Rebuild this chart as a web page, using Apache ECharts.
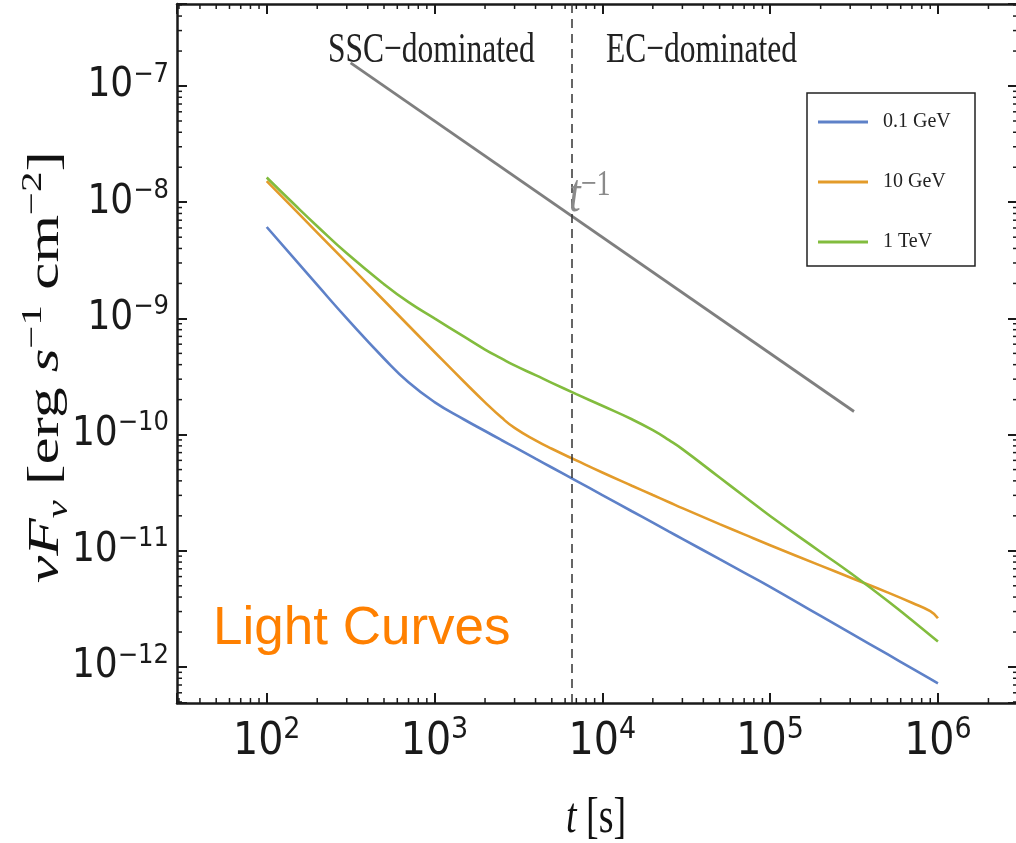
<!DOCTYPE html>
<html><head><meta charset="utf-8">
<script src="https://cdn.jsdelivr.net/npm/echarts@6/dist/echarts.min.js"></script>
<style>html,body{margin:0;padding:0;background:#fff}#c{width:1016px;height:843px}</style>
</head><body><div id="c"></div>
<script>
// ---- data ----
const times = [100,150,200,300,500,700,1e3,1.5e3,2e3,2.5e3,3e3,4e3,5e3,7e3,1e4,1.5e4,2e4,2.5e4,3e4,5e4,7e4,1e5,2e5,3e5,5e5,7e5,9e5,1e6];
const flux01GeV = [6.12e-9,3.126e-9,1.941e-9,1.0e-9,4.52e-10,2.818e-10,1.905e-10,1.349e-10,1.074e-10,8.99e-11,7.80e-11,6.21e-11,5.21e-11,4.00e-11,3.02e-11,2.19e-11,1.746e-11,1.462e-11,1.268e-11,8.47e-12,6.50e-12,4.90e-12,2.75e-12,1.968e-12,1.288e-12,9.75e-13,7.91e-13,7.24e-13];
const flux10GeV = [1.52e-8,8.38e-9,5.48e-9,3.02e-9,1.426e-9,8.69e-10,5.14e-10,2.85e-10,1.895e-10,1.408e-10,1.142e-10,8.91e-11,7.55e-11,6.00e-11,4.72e-11,3.63e-11,3.02e-11,2.62e-11,2.33e-11,1.698e-11,1.384e-11,1.117e-11,7.46e-12,5.90e-12,4.39e-12,3.57e-12,3.02e-12,2.63e-12];
const flux1TeV = [1.633e-8,9.23e-9,6.22e-9,3.63e-9,1.972e-9,1.380e-9,1.0e-9,6.97e-10,5.40e-10,4.53e-10,3.94e-10,3.25e-10,2.79e-10,2.23e-10,1.770e-10,1.355e-10,1.091e-10,8.95e-11,7.50e-11,4.27e-11,2.95e-11,1.995e-11,9.77e-12,6.46e-12,3.72e-12,2.52e-12,1.879e-12,1.660e-12];
const seriesNames = ['0.1 GeV','10 GeV','1 TeV'];
const refLineT = [316.2, 3.162e5];
const refLineFlux = [1.58e-7, 1.58e-10];
const dividerT = 6600;
const xTickExps = [2,3,4,5,6];
const yTickExps = [-12,-11,-10,-9,-8,-7];
const xRange = [29.2, 3.0e6];
const yRange = [4.9e-13, 5.08e-7];

// ---- helpers ----
const colors = ['#5E81C8','#E39B2A','#82BC3E'];
const ink = '#1a1a1a';
const serif = "'Liberation Serif','DejaVu Serif',serif";
const narrow = "'Liberation Sans Narrow','DejaVu Sans Condensed','Liberation Sans',sans-serif";
function expOf(v){ const l=Math.log10(v); const e=Math.round(l); return Math.abs(l-e)<1e-6 ? e : null; }
function minorTicks(lo, hi){
  const out=[];
  for(let k=Math.floor(Math.log10(lo)); k<=Math.ceil(Math.log10(hi)); k++){
    for(let m=2;m<=9;m++){ const v=m*Math.pow(10,k); if(v>lo && v<hi) out.push(v); }
  }
  return out;
}
const xMinor = minorTicks(xRange[0], xRange[1]);
const yMinor = minorTicks(yRange[0], yRange[1]);

function axisBase(extra){
  return Object.assign({
    type:'log', logBase:10,
    axisLine:{show:true, onZero:false, lineStyle:{color:ink, width:2.5}},
    axisTick:{show:true, inside:true, length:10, lineStyle:{color:ink, width:2}},
    splitLine:{show:false}, minorTick:{show:false}, minorSplitLine:{show:false}
  }, extra);
}

const chart = echarts.init(document.getElementById('c'));
const option = {
  backgroundColor:'#fff',
  animation:false,
  grid:{left:177, top:4, width:841, height:699, outerBoundsMode:'none', containLabel:false},
  legend:{
    data:seriesNames, orient:'vertical', left:807, top:93, icon:'rect',
    padding:[19,12,14,11], itemGap:40, itemWidth:50, itemHeight:3,
    borderColor:'#222', borderWidth:1.5, backgroundColor:'#fff',
    textStyle:{fontFamily:serif, fontSize:20, color:'#222', lineHeight:20, width:80, padding:[0,0,0,10]}
  },
  xAxis:[
    axisBase({position:'bottom', min:xRange[0], max:xRange[1],
      axisLabel:{margin:12, color:ink,
        formatter:v=>{const e=expOf(v); return (e!==null && xTickExps.includes(e)) ? '{b|10}{s|'+e+'}' : '';},
        rich:{b:{fontFamily:narrow, fontSize:44, lineHeight:56, color:ink},
              s:{fontFamily:narrow, fontSize:30, lineHeight:18, verticalAlign:'top', color:ink}}}}),
    axisBase({position:'top', min:xRange[0], max:xRange[1], axisLabel:{show:false}})
  ],
  yAxis:[
    axisBase({position:'left', min:yRange[0], max:yRange[1],
      axisLabel:{margin:8, color:ink,
        formatter:v=>{const e=expOf(v); return (e!==null && yTickExps.includes(e)) ? '{b|10}{s|'+String(e).replace('-','−')+'}' : '';},
        rich:{b:{fontFamily:narrow, fontSize:40, lineHeight:50, color:ink},
              s:{fontFamily:narrow, fontSize:27, lineHeight:22, verticalAlign:'top', color:ink}}}}),
    axisBase({position:'right', min:yRange[0], max:yRange[1], axisLabel:{show:false}})
  ],
  series:[
    {name:seriesNames[0], type:'line', data:times.map((t,i)=>[t,flux01GeV[i]]), symbol:'none', smooth:0.5,
     lineStyle:{color:colors[0], width:2.6}, itemStyle:{color:colors[0]}, z:3},
    {name:seriesNames[1], type:'line', data:times.map((t,i)=>[t,flux10GeV[i]]), symbol:'none', smooth:0.5,
     lineStyle:{color:colors[1], width:2.6}, itemStyle:{color:colors[1]}, z:3},
    {name:seriesNames[2], type:'line', data:times.map((t,i)=>[t,flux1TeV[i]]), symbol:'none', smooth:0.5,
     lineStyle:{color:colors[2], width:2.6}, itemStyle:{color:colors[2]}, z:3},
    {name:'t-1', type:'line', data:refLineT.map((t,i)=>[t,refLineFlux[i]]), symbol:'none',
     lineStyle:{color:'#7f7f7f', width:2.8}, z:2,
     markLine:{silent:true, symbol:'none', label:{show:false},
       lineStyle:{color:'#333', width:1.5, type:[9,6]},
       data:[{xAxis:dividerT}]}},
    {type:'custom', silent:true, clip:false, z:5,
     data:xMinor.map(v=>[v,1e-9]),
     renderItem:(params, api)=>{
       const cs=params.coordSys; const x=api.coord([api.value(0),1e-9])[0];
       const st={stroke:ink, lineWidth:1.5};
       return {type:'group', children:[
         {type:'line', shape:{x1:x,y1:cs.y+cs.height,x2:x,y2:cs.y+cs.height-5}, style:st},
         {type:'line', shape:{x1:x,y1:cs.y,x2:x,y2:cs.y+5}, style:st}]};
     }},
    {type:'custom', silent:true, clip:false, z:5,
     data:yMinor.map(v=>[1000,v]),
     renderItem:(params, api)=>{
       const cs=params.coordSys; const y=api.coord([1000,api.value(1)])[1];
       const st={stroke:ink, lineWidth:1.5};
       return {type:'group', children:[
         {type:'line', shape:{x1:cs.x,y1:y,x2:cs.x+5,y2:y}, style:st},
         {type:'line', shape:{x1:cs.x+cs.width,y1:y,x2:cs.x+cs.width-5,y2:y}, style:st}]};
     }}
  ],
  graphic:[
    {type:'text', x:328, y:51, scaleY:1.36, z:10,
     style:{text:'SSC−dominated', fontFamily:serif, fontSize:31.5, fill:'#222', textAlign:'left', textVerticalAlign:'middle'}},
    {type:'text', x:606, y:51, scaleY:1.36, z:10,
     style:{text:'EC−dominated', fontFamily:serif, fontSize:31.5, fill:'#222', textAlign:'left', textVerticalAlign:'middle'}},
    {type:'text', x:569, y:197, scaleY:1.3, z:10,
     style:{text:'{t|t}{s|−1}', fill:'#8a8a8a', textAlign:'left', textVerticalAlign:'middle',
       rich:{t:{fontFamily:serif, fontStyle:'italic', fontSize:42, lineHeight:46, fill:'#8a8a8a', color:'#8a8a8a'},
             s:{fontFamily:serif, fontSize:28, lineHeight:22, verticalAlign:'top', fill:'#8a8a8a', color:'#8a8a8a'}}}},
    {type:'text', x:213, y:629, z:10,
     style:{text:'Light Curves', fontFamily:"'Liberation Sans',Arial,sans-serif", fontSize:53, fill:'#FF8000', textAlign:'left', textVerticalAlign:'middle'}},
    {type:'text', x:596, y:818, scaleY:1.36, z:10,
     style:{text:'{i|t} [s]', fontFamily:serif, fontSize:38, fill:'#111', textAlign:'center', textVerticalAlign:'middle',
       rich:{i:{fontFamily:serif, fontStyle:'italic', fontSize:38, fill:'#111', color:'#111'}}}},
    {type:'text', x:46, y:367, rotation:Math.PI/2, scaleX:1.36, z:10,
     style:{text:'{i|νF}{sub|ν} [erg {i|s}{sup|−1} cm{sup|−2}]', fontFamily:serif, fontSize:45, lineHeight:56, fill:'#111',
       textAlign:'center', textVerticalAlign:'middle',
       rich:{i:{fontFamily:serif, fontStyle:'italic', fontSize:45, lineHeight:56, fill:'#111', color:'#111'},
             sub:{fontFamily:serif, fontStyle:'italic', fontSize:30, lineHeight:32, verticalAlign:'bottom', fill:'#111', color:'#111'},
             sup:{fontFamily:serif, fontSize:30, lineHeight:32, verticalAlign:'top', fill:'#111', color:'#111'}}}}
  ]
};
chart.setOption(option);
</script></body></html>
